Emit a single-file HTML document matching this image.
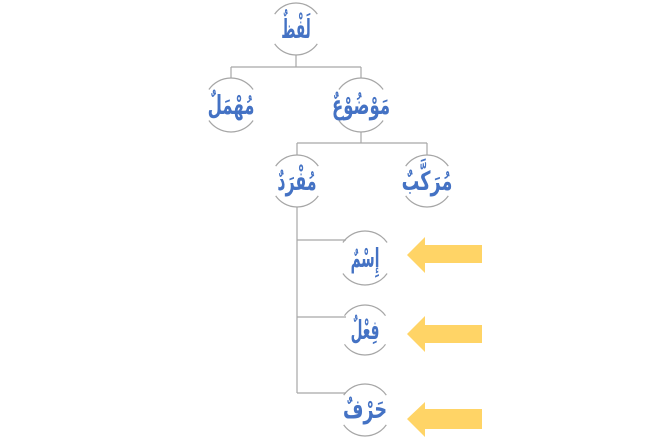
<!DOCTYPE html>
<html><head><meta charset="utf-8"><style>
html,body{margin:0;padding:0;background:#fff;}
svg{display:block}
text{font-family:"DejaVu Sans","Liberation Sans",sans-serif;font-size:22px;font-weight:bold;fill:#4472C4;text-anchor:middle;}
</style></head><body>
<svg width="659" height="441" viewBox="0 0 659 441" xmlns="http://www.w3.org/2000/svg">
<g fill="none" stroke="#A6A6A6" stroke-width="1.2">
<path d="M296 55 V67 M231 67 H361 M231 67 V78 M361 67 V78"/>
<path d="M361 132 V143 M297 143 H427 M297 143 V155 M427 143 V155"/>
<path d="M297 207 V393 M297 240 H346 M297 317 H346 M297 393 H346"/>
<path d="M274.7 14.1 A26 26 0 0 1 317.3 14.1 M274.7 43.9 A26 26 0 0 0 317.3 43.9"/>
<path d="M208.9 89.5 A27 27 0 0 1 253.1 89.5 M208.9 120.5 A27 27 0 0 0 253.1 120.5"/>
<path d="M338.9 89.5 A27 27 0 0 1 383.1 89.5 M338.9 120.5 A27 27 0 0 0 383.1 120.5"/>
<path d="M275.7 166.1 A26 26 0 0 1 318.3 166.1 M275.7 195.9 A26 26 0 0 0 318.3 195.9"/>
<path d="M405.7 166.1 A26 26 0 0 1 448.3 166.1 M405.7 195.9 A26 26 0 0 0 448.3 195.9"/>
<path d="M342.9 242.5 A27 27 0 0 1 387.1 242.5 M342.9 273.5 A27 27 0 0 0 387.1 273.5"/>
<path d="M344.5 315.7 A25 25 0 0 1 385.5 315.7 M344.5 344.3 A25 25 0 0 0 385.5 344.3"/>
<path d="M343.7 395.1 A26 26 0 0 1 386.3 395.1 M343.7 424.9 A26 26 0 0 0 386.3 424.9"/>
</g>
<text transform="translate(296,38) scale(0.62,1.2)">لَفْظٌ</text>
<text transform="translate(231,114) scale(0.75,1.2)">مُهْمَلٌ</text>
<text transform="translate(361,114) scale(0.75,1.2)">مَوْضُوْعٌ</text>
<text transform="translate(297,190) scale(0.72,1.2)">مُفْرَدٌ</text>
<text transform="translate(427,190) scale(0.8,1.2)">مُرَكَّبٌ</text>
<text transform="translate(365,267) scale(0.62,1.2)">إِسْمٌ</text>
<text transform="translate(365,339) scale(0.62,1.2)">فِعْلٌ</text>
<text transform="translate(365,418) scale(0.8,1.2)">حَرْفٌ</text>
<g fill="#FFD466">
<path d="M407 255 L425 237 V245 H482 V263 H425 V273 Z"/>
<path d="M407 334 L425 316 V325 H482 V343 H425 V352 Z"/>
<path d="M407 419 L425 402 V409 H482 V429 H425 V437 Z"/>
</g>
</svg>
</body></html>
